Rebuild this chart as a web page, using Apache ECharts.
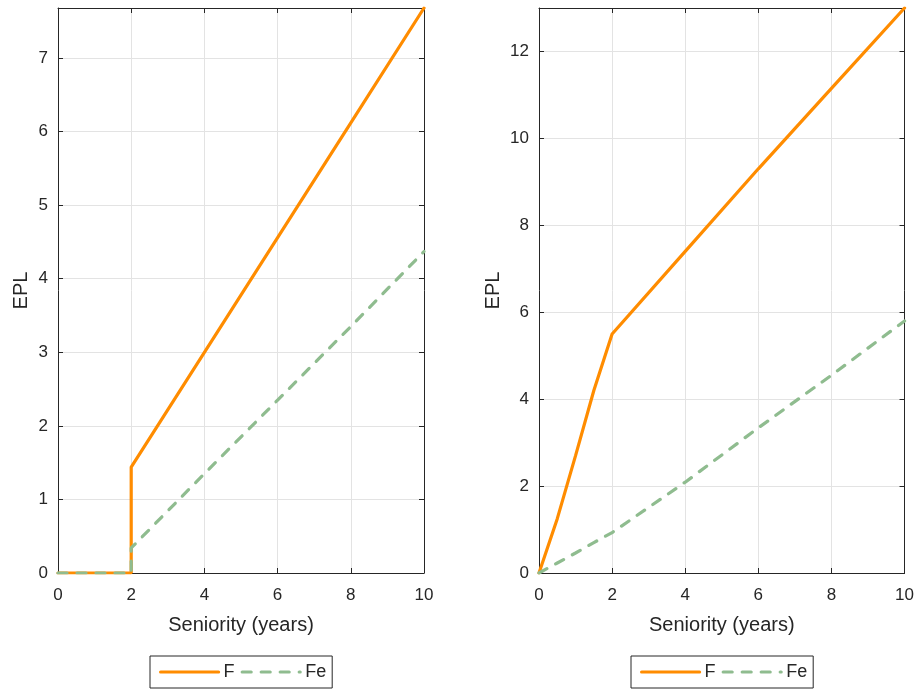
<!DOCTYPE html>
<html>
<head>
<meta charset="utf-8">
<title>EPL vs Seniority</title>
<script src="https://cdn.jsdelivr.net/npm/echarts@6/dist/echarts.min.js"></script>
<style>
  html, body { margin: 0; padding: 0; background: #fff; }
  #box { width: 917px; height: 692px; }
</style>
</head>
<body>
<div id="box"></div>
<script>
  // left panel
  var xLeft = [0, 1, 2, 2, 4, 6, 8, 10]
  var fLeft = [0, 0, 0, 1.44, 3.0, 4.56, 6.12, 7.68]
  var feLeft = [0, 0, 0, 0.34, 1.35, 2.35, 3.35, 4.37]
  // right panel
  var xRight = [0, 0.5, 1, 1.5, 2, 4, 6, 8, 10]
  var fRight = [0, 1.25, 2.7, 4.2, 5.5, 7.4, 9.3, 11.15, 13]
  var feRight = [0, 0.23, 0.46, 0.7, 0.93, 2.09, 3.34, 4.55, 5.8]

  var seriesNames = ['F', 'Fe']

  var dark = '#262626'
  var orange = '#FF8C00'
  var green = '#8FBC8F'
  var font = 'Liberation Sans, Arial, sans-serif'

  function pairs(xs, ys) {
    return xs.map(function (x, i) { return [x, ys[i]] })
  }

  function mainX(grid) {
    return {
      type: 'value', gridIndex: grid, min: 0, max: 10, interval: 2,
      name: 'Seniority (years)', nameLocation: 'middle', nameGap: 42,
      nameTextStyle: { color: dark, fontSize: 20, fontFamily: font },
      axisLine: { onZero: false, lineStyle: { color: dark, width: 1 } },
      axisTick: { inside: true, length: 5, lineStyle: { color: dark } },
      axisLabel: { color: dark, fontSize: 17, fontFamily: font, margin: 14 },
      splitLine: { show: true, lineStyle: { color: '#e3e3e3' } }
    }
  }
  function boxX(grid) {
    return {
      type: 'value', gridIndex: grid, min: 0, max: 10, interval: 2, position: 'top',
      axisLine: { show: true, onZero: false, lineStyle: { color: dark } },
      axisTick: { inside: true, length: 5, lineStyle: { color: dark } },
      axisLabel: { show: false }, splitLine: { show: false }
    }
  }
  function mainY(grid, max, step, gap) {
    return {
      type: 'value', gridIndex: grid, min: 0, max: max, interval: step,
      name: 'EPL', nameLocation: 'middle', nameGap: gap,
      nameTextStyle: { color: dark, fontSize: 20, fontFamily: font },
      axisLine: { show: true, onZero: false, lineStyle: { color: dark } },
      axisTick: { show: true, inside: true, length: 5, lineStyle: { color: dark } },
      axisLabel: { color: dark, fontSize: 17, fontFamily: font, margin: 10,
        showMaxLabel: max % step === 0 },
      splitLine: { show: true, lineStyle: { color: '#e3e3e3' } }
    }
  }
  function boxY(grid, max, step) {
    return {
      type: 'value', gridIndex: grid, min: 0, max: max, interval: step, position: 'right',
      axisLine: { show: true, onZero: false, lineStyle: { color: dark } },
      axisTick: { show: true, inside: true, length: 5, lineStyle: { color: dark } },
      axisLabel: { show: false }, splitLine: { show: false }
    }
  }
  function line(name, data, axis, color, dashed) {
    return {
      name: name, type: 'line', xAxisIndex: axis, yAxisIndex: axis,
      data: data, showSymbol: false, symbol: 'none', animation: false,
      lineStyle: { color: color, width: 3.2, type: dashed ? [9, 10] : 'solid', cap: 'round' },
      itemStyle: { color: color }
    }
  }
  function legend(left) {
    return {
      data: seriesNames, left: left, top: 656, itemGap: 6,
      itemWidth: 58, itemHeight: 14, padding: [7, 6, 7, 9],
      borderColor: dark, borderWidth: 1, borderRadius: 0,
      itemStyle: { opacity: 0 },
      lineStyle: { width: 3.2, cap: 'round' },
      textStyle: { color: dark, fontSize: 18, fontFamily: font, padding: [2, 0, 0, 0] },
      selectedMode: false
    }
  }

  var chart = echarts.init(document.querySelector('#box'))
  var option = {
    animation: false,
    grid: [
      { left: 58, top: 8, width: 366, height: 565 },
      { left: 539, top: 8, width: 366, height: 565 }
    ],
    legend: [legend(150), legend(631)],
    xAxis: [mainX(0), mainX(1), boxX(0), boxX(1)],
    yAxis: [mainY(0, 7.68, 1, 27), mainY(1, 13, 2, 36), boxY(0, 7.68, 1), boxY(1, 13, 2)],
    series: [
      line('F', pairs(xLeft, fLeft), 0, orange, false),
      line('Fe', pairs(xLeft, feLeft), 0, green, true),
      line('F', pairs(xRight, fRight), 1, orange, false),
      line('Fe', pairs(xRight, feRight), 1, green, true)
    ]
  }
  chart.setOption(option)
</script>
</body>
</html>
